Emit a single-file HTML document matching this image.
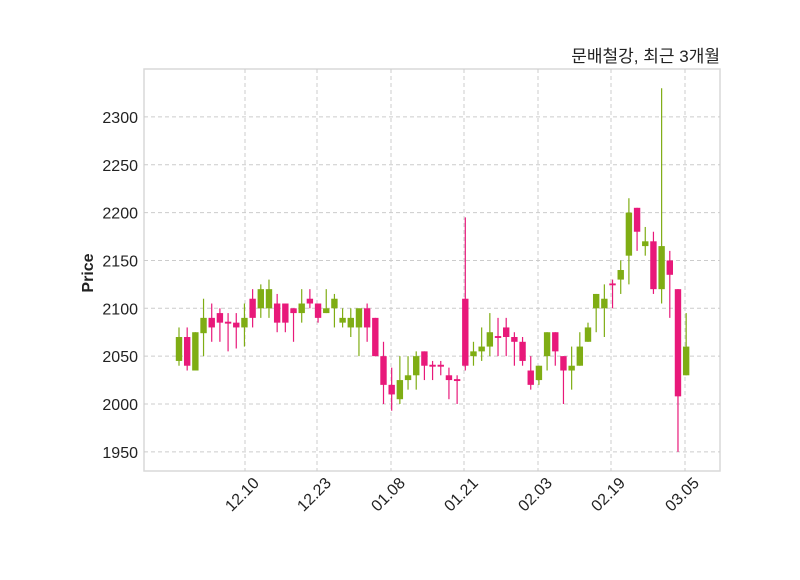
<!DOCTYPE html>
<html><head><meta charset="utf-8"><style>
body{margin:0;background:#fff;}
text{font-family:"Liberation Sans","Noto Sans CJK KR",sans-serif;}
</style></head><body>
<svg id="s" width="800" height="575" xmlns="http://www.w3.org/2000/svg">
<rect x="144" y="69" width="576" height="402" fill="#fff" stroke="#d9d9d9" stroke-width="1.5"/>
<g id="grid" stroke="#cccccc" stroke-dasharray="4,3" stroke-width="1"></g>
<g id="c"></g>
<text x="720" y="62" text-anchor="end" font-size="17" fill="#222">문배철강, 최근 3개월</text>
<text transform="translate(93,273) rotate(-90)" text-anchor="middle" font-size="16" font-weight="bold" fill="#222">Price</text>
<g id="yl" font-size="16" fill="#222" text-anchor="end"></g>
<g id="xl" font-size="16" fill="#222" text-anchor="end"></g>
</svg>
<script>
var ns="http://www.w3.org/2000/svg";
function el(p,t,a,txt){var e=document.createElementNS(ns,t);for(var k in a)e.setAttribute(k,a[k]);if(txt)e.textContent=txt;document.getElementById(p).appendChild(e);}
function Y(p){return 404-(p-2000)*0.957;}
for(var p=1950;p<=2300;p+=50){var y=Y(p);el("grid","line",{x1:144,x2:720,y1:y,y2:y});el("yl","text",{x:138,y:y+6},""+p);}
var xt=[[245,"12.10"],[317,"12.23"],[391,"01.08"],[464,"01.21"],[538,"02.03"],[611,"02.19"],[685,"03.05"]];
xt.forEach(function(t){el("grid","line",{x1:t[0],x2:t[0],y1:69,y2:471});el("xl","text",{transform:"translate("+(t[0]+15)+",484) rotate(-45)"},t[1]);});
var G="#7fad14",P="#e8197a";
var d=[
[G,2070,2045,2080,2040],[P,2070,2040,2080,2035],[G,2075,2035,2075,2035],[G,2090,2074,2110,2050],[P,2090,2080,2105,2065],
[P,2095,2085,2100,2065],[P,2086,2084,2095,2055],[P,2085,2080,2095,2058],[G,2090,2080,2105,2060],[P,2110,2090,2120,2080],
[G,2120,2100,2125,2090],[G,2120,2100,2130,2090],[P,2105,2085,2115,2075],[P,2105,2085,2105,2075],[P,2100,2095,2100,2065],
[G,2105,2095,2120,2085],[P,2110,2105,2120,2100],[P,2105,2090,2105,2085],[G,2100,2095,2120,2095],[G,2110,2100,2115,2080],
[G,2090,2085,2100,2080],[G,2090,2080,2100,2070],[G,2100,2080,2100,2050],[P,2100,2080,2105,2065],[P,2090,2050,2090,2050],
[P,2050,2020,2065,2000],[P,2020,2010,2038,1993],[G,2025,2005,2050,2000],[G,2030,2025,2050,2015],[G,2050,2030,2055,2015],
[P,2055,2040,2055,2025],[P,2041,2039,2045,2025],[P,2041,2039,2045,2030],[P,2030,2025,2038,2005],[P,2026,2024,2030,2000],
[P,2110,2040,2195,2035],[G,2055,2050,2065,2040],[G,2060,2055,2080,2045],[G,2075,2060,2095,2050],[P,2071,2069,2090,2050],
[P,2080,2070,2090,2050],[P,2070,2065,2075,2040],[P,2065,2045,2070,2040],[P,2035,2020,2050,2015],[G,2040,2025,2040,2020],
[G,2075,2050,2075,2035],[P,2075,2055,2075,2040],[P,2050,2035,2050,2000],[G,2040,2035,2060,2015],[G,2060,2040,2075,2040],
[G,2080,2065,2085,2065],[G,2115,2100,2115,2075],[G,2110,2100,2125,2070],[P,2126,2124,2130,2100],[G,2140,2130,2150,2115],
[G,2200,2155,2215,2125],[P,2205,2180,2205,2160],[G,2170,2165,2185,2155],[P,2170,2120,2180,2115],[G,2165,2120,2330,2105],
[P,2150,2135,2160,2090],[P,2120,2008,2120,1950],[G,2060,2030,2095,2030]];
d.forEach(function(c,i){var x=179+i*8.18;
el("c","line",{x1:x,x2:x,y1:Y(c[3]),y2:Y(c[4]),stroke:c[0],"stroke-width":1.2});
var t=Y(c[1]),b=Y(c[2]);if(b-t<1.5){b=t+1.5;}
el("c","rect",{x:x-3.2,y:t,width:6.4,height:b-t,fill:c[0]});});
</script>
</body></html>
